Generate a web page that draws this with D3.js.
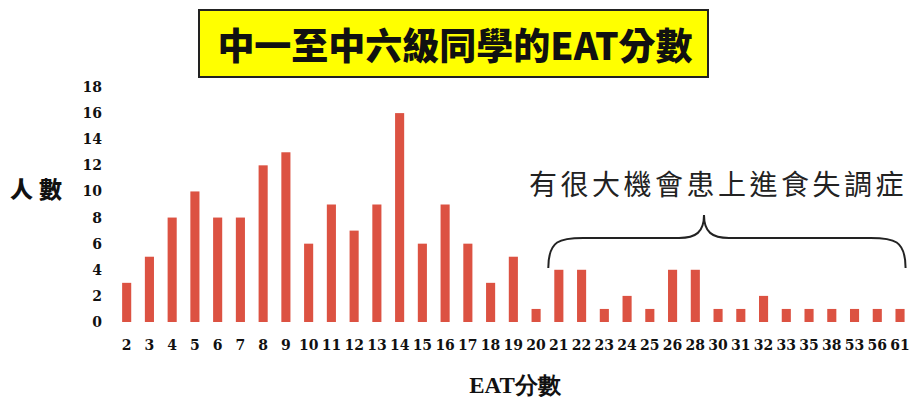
<!DOCTYPE html>
<html><head><meta charset="utf-8">
<script src="https://cdn.jsdelivr.net/npm/d3@7"></script>
<style>html,body{margin:0;padding:0;background:#fff;}svg{display:block;}</style>
</head><body>
<script>
const categories = ["2","3","4","5","6","7","8","9","10","11","12","13","14","15","16","17","18","19","20","21","22","23","24","25","26","28","30","31","32","33","35","38","53","56","61"];
const counts = [3,5,8,10,8,8,12,13,6,9,7,9,16,6,9,6,3,5,1,4,4,1,2,1,4,4,1,1,2,1,1,1,1,1,1];
const yTicks = [0,2,4,6,8,10,12,14,16,18];
const titleText = "中一至中六級同學的EAT分數";
const xTitle = "EAT分數";
const yTitle = "人數";
const note = "有很大機會患上進食失調症";
const braceFrom = "21", braceTo = "61";

const W = 911, H = 400;
const svg = d3.select("body").append("svg").attr("width", W).attr("height", H);

const x = d3.scaleBand().domain(categories).range([115.3, 911.4]).paddingInner(0.6).paddingOuter(0.3);
const y = d3.scaleLinear().domain([0, 18]).range([322, 87]);

const serif = "'Liberation Serif','DejaVu Serif',serif";
const tickFont = "'DejaVu Serif','Liberation Serif',serif";
const cjk = "'Noto Sans CJK TC','Noto Sans CJK SC',sans-serif";

// Title box
svg.append("rect").attr("x", 199).attr("y", 10).attr("width", 509).attr("height", 67)
  .attr("fill", "#ffff00").attr("stroke", "#222").attr("stroke-width", 2);
svg.append("text").attr("x", 455).attr("y", 60).attr("text-anchor", "middle")
  .attr("font-family", cjk).attr("font-weight", 900).attr("font-size", 37)
  .attr("fill", "#111").text(titleText);

// Bars
svg.append("g").selectAll("rect").data(categories).join("rect")
  .attr("x", d => x(d)).attr("width", x.bandwidth())
  .attr("y", (d, i) => y(counts[i])).attr("height", (d, i) => y(0) - y(counts[i]))
  .attr("fill", "#dc5242");

// Y axis (labels only)
const yAxis = d3.axisLeft(y).tickValues(yTicks).tickSize(0).tickPadding(0);
const gy = svg.append("g").attr("transform", "translate(102,0)").call(yAxis);
gy.select(".domain").remove();
gy.attr("font-size", 14).attr("font-family", tickFont);
gy.selectAll("text").attr("font-family", tickFont).attr("font-weight", "bold")
  .attr("font-size", 14).attr("fill", "#111");

// X axis (labels only)
const xAxis = d3.axisBottom(x).tickSize(0).tickPadding(0);
const gx = svg.append("g").attr("transform", "translate(0,340)").call(xAxis);
gx.select(".domain").remove();
gx.attr("font-size", 14).attr("font-family", tickFont);
gx.selectAll("text").attr("font-family", tickFont).attr("font-weight", "bold")
  .attr("font-size", 14).attr("fill", "#111");

// Axis titles
svg.append("text").attr("x", 39).attr("y", 198).attr("text-anchor", "middle")
  .attr("font-family", cjk).attr("font-weight", 900).attr("font-size", 23)
  .attr("letter-spacing", 6).attr("fill", "#111").text(yTitle);
svg.append("text").attr("x", 515).attr("y", 393).attr("text-anchor", "middle")
  .attr("font-family", serif).attr("font-weight", "bold").attr("font-size", 23)
  .attr("fill", "#111").text(xTitle);

// Annotation
svg.append("text").attr("x", 718).attr("y", 195).attr("text-anchor", "middle")
  .attr("font-family", cjk).attr("font-weight", 400).attr("font-size", 28)
  .attr("letter-spacing", 3.5).attr("fill", "#222").text(note);

// Brace
const bx0 = x(braceFrom) - 6, bx1 = x(braceTo) + x.bandwidth() + 1;
const by = 238, byEnd = 268, mid = 704, peak = 215;
const path = d3.path();
path.moveTo(bx0, byEnd);
path.bezierCurveTo(bx0, by + 2, bx0 + 12, by, bx0 + 35, by);
path.lineTo(mid - 25, by);
path.bezierCurveTo(mid - 8, by, mid, by - 6, mid, peak);
path.bezierCurveTo(mid, by - 6, mid + 8, by, mid + 25, by);
path.lineTo(bx1 - 35, by);
path.bezierCurveTo(bx1 - 12, by, bx1, by + 2, bx1, byEnd);
svg.append("path").attr("d", path.toString()).attr("fill", "none")
  .attr("stroke", "#222").attr("stroke-width", 2);
</script>
</body></html>
